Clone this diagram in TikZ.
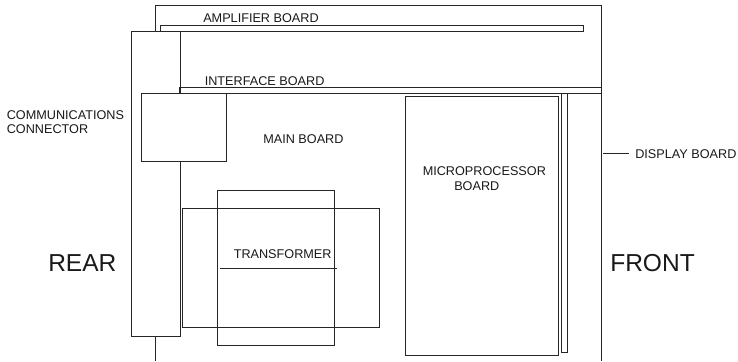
\documentclass[tikz,border=0pt]{standalone}
\usepackage{fontspec}
\setmainfont{Liberation Sans}
\tikzset{
  wire/.style={line width=0.7pt,draw=black!85},
  label/.style={inner sep=0pt,font=\fontsize{9.5}{10}\selectfont,text=black!90,anchor=base west,align=left},
  biglabel/.style={inner sep=0pt,font=\fontsize{18.4}{20}\selectfont,text=black!90,anchor=base west},
}
\begin{document}
\begin{tikzpicture}[x=0.75pt,y=-0.75pt]
\useasboundingbox (0,0) rectangle (738,361);
\fill[white] (0,0) rectangle (738,361);
% enclosure
\coordinate (encA) at (155.5,31);
\coordinate (encB) at (155.5,5);
\coordinate (encC) at (601,5);
\coordinate (encD) at (601,361);
\coordinate (encE) at (155.5,336);
\coordinate (encF) at (155.5,361);
\draw[wire] (encA) -- (encB) -- (encC) -- (encD);
\draw[wire] (encE) -- (encF);
% boards
\draw[wire] (160.5,31) rectangle (583,25);
\draw[wire] (179,93) rectangle (601,87);
\draw[wire] (131,31) rectangle (180.5,336);
\draw[wire,fill=white] (141.5,93.5) rectangle (226.5,161);
\draw[wire] (405.3,96) rectangle (558.3,355);
\draw[wire] (561,93) rectangle (567.5,352.5);
\draw[wire] (217.7,190.7) rectangle (334.3,345.7);
\draw[wire] (182.3,208.3) rectangle (379.7,327.3);
% labels
\node[label] (amp) at (203,22) {AMPLIFIER BOARD};
\node[label] (iface) at (204.5,85) {INTERFACE BOARD};
\node[label] (comm) at (6.5,133) {COMMUNICATIONS\\CONNECTOR};
\node[label] (main) at (263,143) {MAIN BOARD};
\node[label] (micro) at (422.5,175) {MICROPROCESSOR};
\node[label] (microb) at (454,190) {BOARD};
\node[label] (trans) at (233.5,258.5) {TRANSFORMER};
\node[label] (disp) at (635,158) {DISPLAY BOARD};
\node[biglabel] (rear) at (48,271) {REAR};
\node[biglabel] (front) at (610,271.5) {FRONT};
% leaders
\coordinate (dispL) at (603,153.5);
\coordinate (dispR) at (629,153.5);
\draw[wire] (dispL) -- (dispR);
\coordinate (transL) at (220,268);
\coordinate (transR) at (337,268);
\draw[wire] (transL) -- (transR);
\end{tikzpicture}
\end{document}
